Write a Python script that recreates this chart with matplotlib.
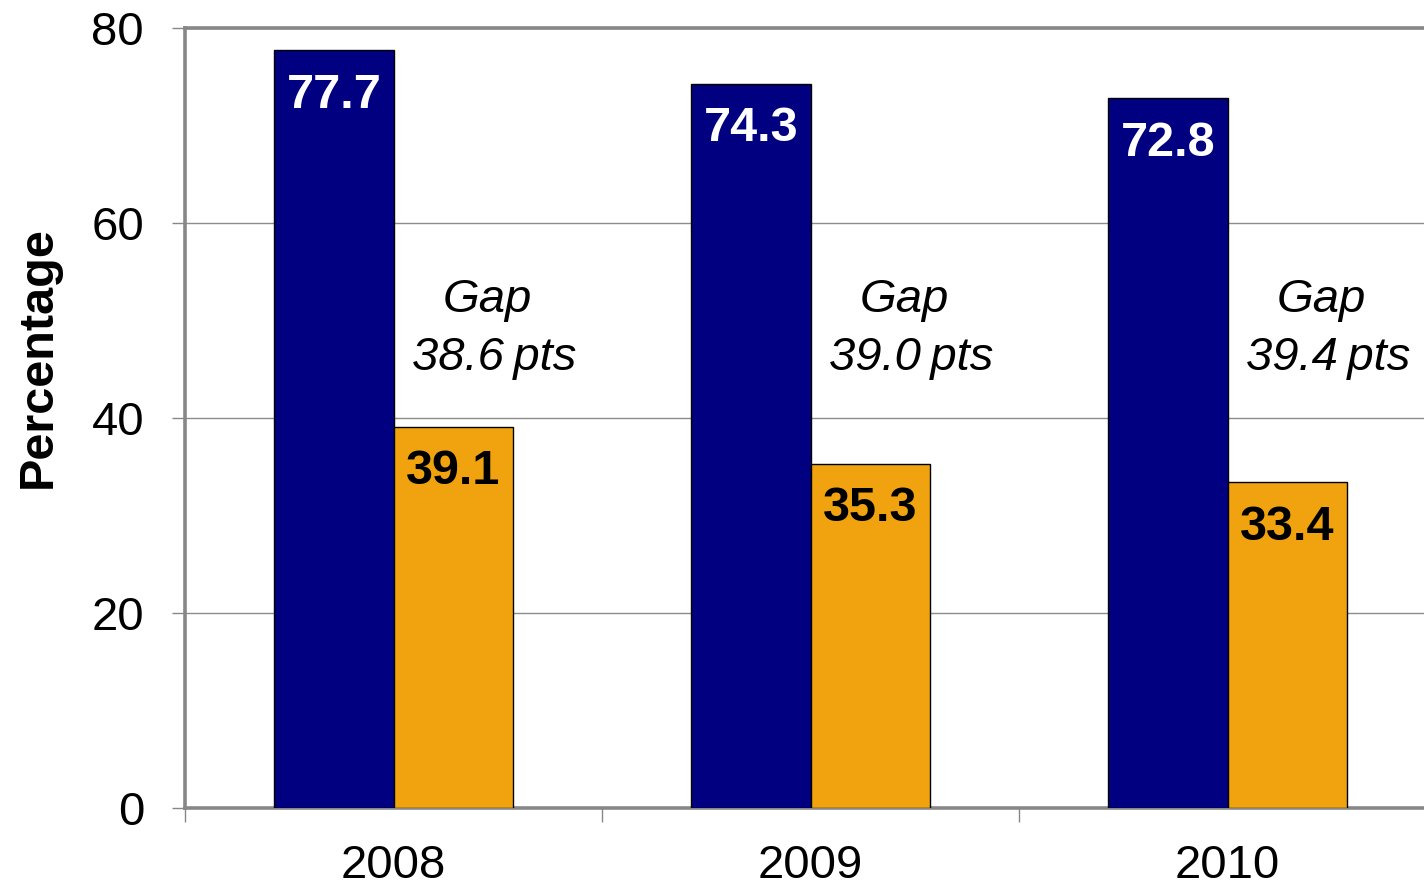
import matplotlib
matplotlib.use("Agg")
import matplotlib.pyplot as plt
import numpy as np

plt.rcParams['font.family'] = ['Liberation Sans', 'DejaVu Sans']

years = ["2008", "2009", "2010"]
navy_vals = [77.7, 74.3, 72.8]
orange_vals = [39.1, 35.3, 33.4]
gaps = [38.6, 39.0, 39.4]
yticks = [0, 20, 40, 60, 80]

NAVY = "#000080"
ORANGE = "#F0A30F"
SPINE = "#878787"

fig = plt.figure(figsize=(14.24, 8.86), dpi=100)
ax = fig.add_axes([185/1424, 78/886, 1251/1424, 780/886])

x = np.arange(len(years))
w = 0.2854
b1 = ax.bar(x - w/2, navy_vals, w, color=NAVY, edgecolor="black", linewidth=1, zorder=3)
b2 = ax.bar(x + w/2, orange_vals, w, color=ORANGE, edgecolor="black", linewidth=1, zorder=3)

for rect, v in zip(b1, navy_vals):
    ax.annotate(f"{v:.1f}", (rect.get_x() + rect.get_width()/2, v), xytext=(0, -41.5),
                textcoords="offset points", ha="center", va="baseline",
                color="white", fontsize=35, fontweight="bold", zorder=4)
for rect, v in zip(b2, orange_vals):
    ax.annotate(f"{v:.1f}", (rect.get_x() + rect.get_width()/2, v), xytext=(0, -41.5),
                textcoords="offset points", ha="center", va="baseline",
                color="black", fontsize=35, fontweight="bold", zorder=4)

for xi, g in zip(x, gaps):
    ax.text(xi + 0.225, 50.9, "Gap", ha="center", va="baseline",
            fontsize=34, fontstyle="italic", zorder=4)
    ax.text(xi + 0.242, 44.9, f"{g:.1f}\u2009pts", ha="center", va="baseline",
            fontsize=34, fontstyle="italic", zorder=4)

ax.set_xlim(-0.5, 2.5)
ax.set_ylim(0, 80)
ax.set_yticks(yticks)
ax.set_yticklabels([str(t) for t in yticks])
ax.yaxis.grid(True, color="#8c8c8c", linewidth=1.0, zorder=0)
ax.set_axisbelow(True)

ax.set_xticks(x)
ax.set_xticklabels(years)
ax.set_xticks(np.arange(-0.5, 3.0, 1.0), minor=True)
ax.tick_params(axis="x", which="major", length=0, pad=26, labelsize=34)
ax.tick_params(axis="x", which="minor", length=10, width=1, color=SPINE)
ax.tick_params(axis="y", which="major", length=9.5, width=1, color=SPINE, pad=20, labelsize=34)

for s in ["left", "top", "bottom", "right"]:
    ax.spines[s].set_color(SPINE)
    ax.spines[s].set_linewidth(2.6)

fig.text(38/1424, 1 - 357/886, "Percentage", rotation=90, ha="center", va="center",
         fontsize=35, fontweight="bold")

fig.savefig("out.png", dpi=100)
